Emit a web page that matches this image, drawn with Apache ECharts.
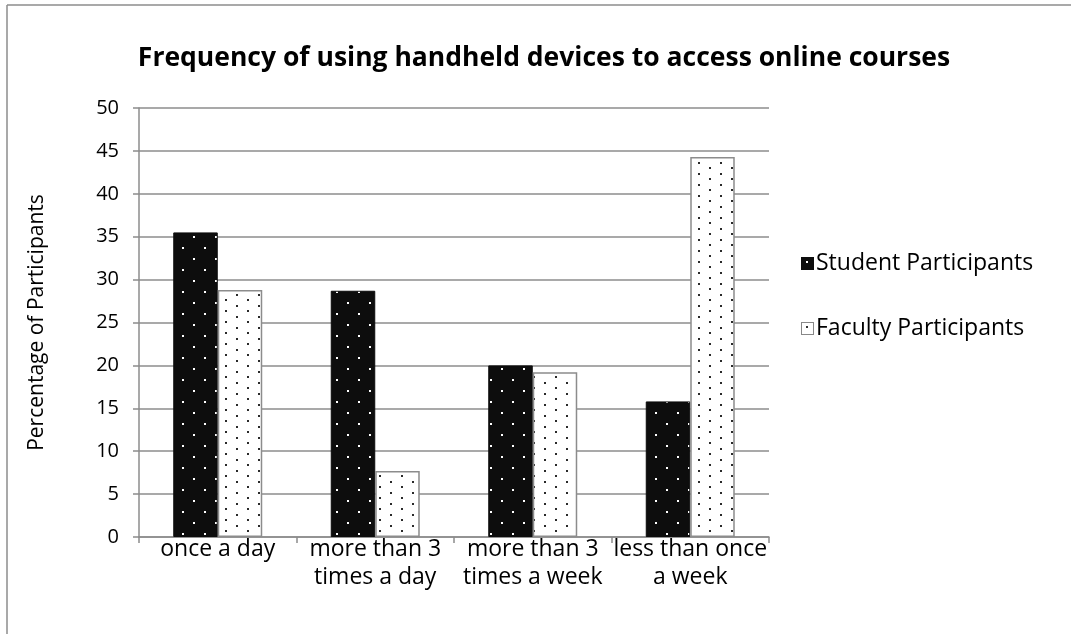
<!DOCTYPE html>
<html>
<head>
<meta charset="utf-8">
<script src="https://cdn.jsdelivr.net/npm/echarts@6/dist/echarts.min.js"></script>
<style>
  html, body { margin: 0; padding: 0; background: #fff; }
  #chart { width: 1071px; height: 634px; }
</style>
</head>
<body>
<div id="chart"></div>
<script>
const titleText = 'Frequency of using handheld devices to access online courses';
const categories = ['once a day', 'more than 3\ntimes a day', 'more than 3\ntimes a week', 'less than once\na week'];
const seriesNames = ['Student Participants', 'Faculty Participants'];
const studentValues = [35.5, 28.7, 20.0, 15.8];
const facultyValues = [28.8, 7.7, 19.2, 44.3];
const yTicks = [0, 5, 10, 15, 20, 25, 30, 35, 40, 45, 50];

const FONT = '"Open Sans", "Noto Sans", sans-serif';

// Dotted fills: black with white dots, white with dark dots
function makePattern(bg, dot, w, h, pts) {
  const c = document.createElement('canvas');
  c.width = w; c.height = h;
  const g = c.getContext('2d');
  g.fillStyle = bg; g.fillRect(0, 0, w, h);
  g.fillStyle = dot;
  pts.forEach(p => g.fillRect(p[0], p[1], 2, 2));
  return c;
}
const darkPattern = makePattern('#0d0d0d', '#ffffff', 22, 22, [[6, 5], [17, 16]]);
const lightPattern = makePattern('#ffffff', '#2a2a2a', 22, 11, [[5, 2], [16, 8]]);

function makeIcon(bg, dot, border) {
  const c = document.createElement('canvas');
  c.width = 13; c.height = 13;
  const g = c.getContext('2d');
  g.fillStyle = bg; g.fillRect(0, 0, 13, 13);
  if (border) { g.strokeStyle = border; g.lineWidth = 1; g.strokeRect(0.5, 0.5, 12, 12); }
  g.fillStyle = dot; g.fillRect(5, 4, 2, 2);
  return 'image://' + c.toDataURL();
}

const chart = echarts.init(document.getElementById('chart'), null, { renderer: 'canvas' });
chart.setOption({
  backgroundColor: '#ffffff',
  animation: false,
  graphic: [
    { type: 'line', shape: { x1: 7, y1: 5, x2: 1071, y2: 5 }, style: { stroke: '#8c8c8c', lineWidth: 1.5 } },
    { type: 'line', shape: { x1: 7, y1: 5, x2: 7, y2: 634 }, style: { stroke: '#8c8c8c', lineWidth: 1.5 } }
  ],
  title: {
    text: titleText,
    left: 539, top: 40, textAlign: 'center',
    textStyle: { fontFamily: FONT, fontWeight: 'bold', fontSize: 26.5, color: '#000' }
  },
  legend: {
    orient: 'vertical',
    left: 796, top: 247,
    itemWidth: 13, itemHeight: 13, itemGap: 42,
    textStyle: { fontFamily: FONT, fontSize: 23, color: '#000', padding: [0, 0, 0, -3] },
    data: [
      { name: seriesNames[0], icon: makeIcon('#0d0d0d', '#ffffff', null) },
      { name: seriesNames[1], icon: makeIcon('#ffffff', '#333333', '#888888') }
    ]
  },
  grid: { left: 139, right: 302, top: 108, bottom: 97, containLabel: false },
  xAxis: {
    type: 'category',
    data: categories,
    axisLine: { lineStyle: { color: '#8c8c8c', width: 1.5 } },
    axisTick: { show: true, length: 6, alignWithLabel: false, lineStyle: { color: '#8c8c8c', width: 1.5 } },
    axisLabel: { fontFamily: FONT, fontSize: 23, color: '#000', margin: -2, lineHeight: 28.5, interval: 0 }
  },
  yAxis: {
    type: 'value',
    min: 0, max: 50, interval: 5,
    name: 'Percentage of Participants',
    nameLocation: 'middle', nameGap: 91, nameRotate: 90,
    nameTextStyle: { fontFamily: FONT, fontSize: 21, color: '#000' },
    axisLine: { show: true, lineStyle: { color: '#8c8c8c', width: 1.5 } },
    axisTick: { show: true, length: 6, lineStyle: { color: '#8c8c8c', width: 1.5 } },
    axisLabel: {
      fontFamily: FONT, fontSize: 20, color: '#000', margin: 20,
      formatter: v => (yTicks.includes(v) ? String(v) : '')
    },
    splitLine: { lineStyle: { color: '#8c8c8c', width: 1.5 } }
  },
  series: [
    {
      name: seriesNames[0], type: 'bar', data: studentValues,
      barGap: '0%', barCategoryGap: '43.5%',
      itemStyle: { color: { image: darkPattern, repeat: 'repeat' }, borderColor: '#0d0d0d', borderWidth: 1 }
    },
    {
      name: seriesNames[1], type: 'bar', data: facultyValues,
      barGap: '0%', barCategoryGap: '43.5%',
      itemStyle: { color: { image: lightPattern, repeat: 'repeat' }, borderColor: '#8c8c8c', borderWidth: 1.5 }
    }
  ]
});
</script>
</body>
</html>
